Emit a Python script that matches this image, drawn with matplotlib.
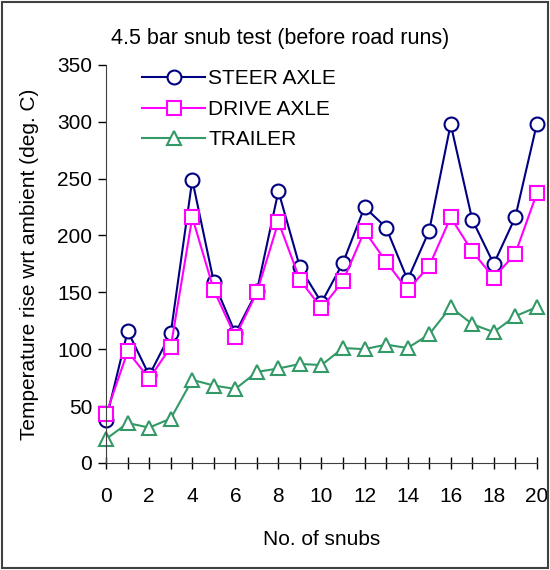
import matplotlib
matplotlib.use("Agg")
import matplotlib.pyplot as plt
from matplotlib.patches import Rectangle

plt.rcParams['font.family'] = ['Liberation Sans', 'DejaVu Sans']

snubs = list(range(21))
steer = [38, 116, 77, 114, 249, 159, 114, 151, 239, 172, 141, 176, 225, 207, 161, 204, 298, 214, 175, 216, 298]
drive = [43, 98, 74, 102, 216, 152, 111, 150, 212, 161, 136, 160, 204, 177, 152, 173, 216, 186, 163, 184, 237]
trailer = [21, 35, 31, 39, 73, 68, 65, 80, 83, 87, 86, 101, 100, 104, 101, 113, 137, 122, 115, 129, 137]

fig = plt.figure(figsize=(5.5, 5.7), dpi=100)
ax = fig.add_axes([0.193, 0.188, 0.783, 0.698])

ax.plot(snubs, steer, color='#000080', lw=1.5, marker='o', ms=10, mfc='white', mew=1.5, label='STEER AXLE')
ax.plot(snubs, drive, color='#ff00ff', lw=1.5, marker='s', ms=9.5, mfc='white', mew=1.5, label='DRIVE AXLE')
ax.plot(snubs, trailer, color='#339966', lw=1.5, marker='^', ms=10.5, mfc='white', mew=1.5, label='TRAILER')

ax.set_xlim(0, 20)
ax.set_ylim(0, 350)
ax.set_xticks(range(0, 21, 2))
ax.set_xticks(range(21), minor=True)
ax.set_yticks(range(0, 351, 50))
ax.tick_params(axis='y', direction='out', labelsize=15, length=6, width=1, pad=4)
ax.tick_params(axis='x', which='both', direction='inout', labelsize=15, length=9, width=1, pad=13)
ax.spines['top'].set_visible(False)
ax.spines['right'].set_visible(False)
for s in ['left', 'bottom']:
    ax.spines[s].set_color('#404040')
for ln in ax.lines:
    ln.set_clip_on(False)

ax.set_xlabel('No. of snubs', fontsize=15, labelpad=17)
ax.set_ylabel('Temperature rise wrt ambient (deg. C)', fontsize=15, labelpad=13)

ax.legend(loc='upper left', bbox_to_anchor=(0.065, 1.01), frameon=False, fontsize=15,
          handlelength=3, labelspacing=0.55, borderaxespad=0, handletextpad=0.15)

fig.text(0.51, 0.933, '4.5 bar snub test (before road runs)', ha='center', va='center', fontsize=15.5)
fig.patches.append(Rectangle((0.003, 0.003), 0.994, 0.994, transform=fig.transFigure,
                             fill=False, edgecolor='#404040', lw=1.5))

fig.savefig('out.png', dpi=100)
